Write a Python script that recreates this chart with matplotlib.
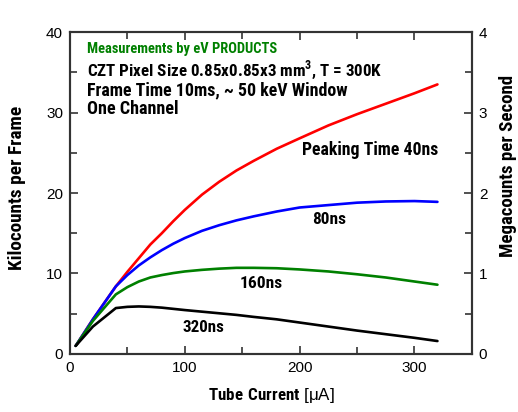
import matplotlib
matplotlib.use("Agg")
import matplotlib.pyplot as plt
from matplotlib import font_manager as fm
from matplotlib.ticker import MultipleLocator


def has_bold(name):
    for f in fm.fontManager.ttflist:
        if f.name == name:
            w = f.weight
            if w == 'bold' or (isinstance(w, int) and w >= 700):
                return True
    return False


bold_font = 'Liberation Sans'
for cand in ['Roboto Condensed', 'Archivo Narrow', 'PT Sans Narrow']:
    if has_bold(cand):
        bold_font = cand
        break

plt.rcParams['font.family'] = ['Liberation Sans', 'DejaVu Sans']
plt.rcParams['mathtext.fontset'] = 'custom'
plt.rcParams['mathtext.rm'] = 'Liberation Sans'
plt.rcParams['mathtext.bf'] = bold_font + ':bold'

current = [5, 20, 40, 50, 60, 70, 80, 90, 100, 115, 130, 145, 160, 180, 200, 225, 250, 275, 300, 320]
pt40 = [1.0, 4.3, 8.4, 10.2, 11.9, 13.6, 15.0, 16.5, 17.9, 19.8, 21.4, 22.8, 24.0, 25.5, 26.8,
        28.4, 29.8, 31.1, 32.4, 33.5]
pt80 = [1.0, 4.3, 8.4, 9.8, 11.0, 12.0, 12.9, 13.7, 14.4, 15.3, 16.0, 16.6, 17.1, 17.7, 18.2,
        18.5, 18.8, 18.95, 19.0, 18.9]
pt160 = [1.0, 4.1, 7.4, 8.3, 9.0, 9.5, 9.8, 10.05, 10.25, 10.45, 10.6, 10.7, 10.7, 10.65, 10.5,
         10.25, 9.9, 9.5, 9.0, 8.6]
pt320 = [1.0, 3.4, 5.7, 5.85, 5.9, 5.85, 5.75, 5.6, 5.45, 5.25, 5.05, 4.85, 4.6, 4.3, 3.9,
         3.4, 2.9, 2.45, 2.0, 1.6]

series = [(pt40, '#ff0000'), (pt80, '#0000ff'), (pt160, '#008000'), (pt320, '#000000')]
# text, x, y (baseline), width in px seen in reference
curve_labels = [("Peaking Time 40ns", 201.7, 24.7, 136), ("80ns", 210.6, 16.15, 34),
                ("160ns", 147.8, 8.16, 43), ("320ns", 98.3, 2.77, 42)]
info = [("Measurements by eV PRODUCTS", 0.934, 191, '#008000'),
        ("CZT Pixel Size 0.85x0.85x3 mm$^\\mathbf{3}$, T = 300K", 0.866, 296, 'black'),
        ("Frame Time 10ms, ~ 50 keV Window", 0.804, 259, 'black'),
        ("One Channel", 0.745, 92, 'black')]

fig = plt.figure(figsize=(5.18, 4.12), dpi=100)
ax = fig.add_axes([0.135, 0.141, 0.776, 0.781])

for vals, col in series:
    ax.plot(current, vals, color=col, lw=1.9, solid_capstyle='round')

fitted = []
for txt, x, y, w in curve_labels:
    t = ax.text(x, y, txt, fontsize=11, fontweight='bold', family=bold_font, va='baseline')
    fitted.append((t, w))
for txt, y, w, col in info:
    t = ax.text(0.042, y, txt, transform=ax.transAxes, color=col, fontsize=11,
                fontweight='bold', family=bold_font, va='baseline')
    fitted.append((t, w))

ax.set_xlim(0, 350)
ax.set_ylim(0, 40)
ax.xaxis.set_major_locator(MultipleLocator(100))
ax.xaxis.set_minor_locator(MultipleLocator(50))
ax.yaxis.set_major_locator(MultipleLocator(10))
ax.yaxis.set_minor_locator(MultipleLocator(5))
ax.tick_params(which='both', direction='in', top=True, right=False,
               labelsize=11, width=1.2, color='#333333', pad=5)
ax.tick_params(which='major', length=6)
ax.tick_params(which='minor', length=5)

ax2 = ax.twinx()
ax2.set_ylim(0, 4)
ax2.yaxis.set_major_locator(MultipleLocator(1))
ax2.yaxis.set_minor_locator(MultipleLocator(0.5))
ax2.tick_params(which='both', direction='in', labelsize=11, width=1.2, color='#333333', pad=5)
ax2.tick_params(which='major', length=6)
ax2.tick_params(which='minor', length=5)

for a in (ax, ax2):
    for s in a.spines.values():
        s.set_linewidth(1.5)
        s.set_color('#333333')

t = ax.text(0.501, -0.130, "$\\bf{Tube\\ Current}$ [\u03bcA]", transform=ax.transAxes,
            fontsize=12, ha='center', va='center')
fitted.append((t, 127))
t = ax.text(-0.131, 0.517, "Kilocounts per Frame", transform=ax.transAxes, rotation=90,
            fontsize=12, fontweight='bold', family=bold_font, ha='center', va='center')
fitted.append((t, 165))
t = ax.text(1.0896, 0.584, "Megacounts per Second", transform=ax.transAxes, rotation=90,
            fontsize=12, fontweight='bold', family=bold_font, ha='center', va='center')
fitted.append((t, 182))

# scale each text so its length matches the reference
renderer = fig.canvas.get_renderer()
for t, w in fitted:
    bb = t.get_window_extent(renderer)
    cur = max(bb.width, bb.height) if t.get_rotation() else bb.width
    t.set_fontsize(t.get_fontsize() * w / cur)

fig.savefig("out.png", dpi=100)
